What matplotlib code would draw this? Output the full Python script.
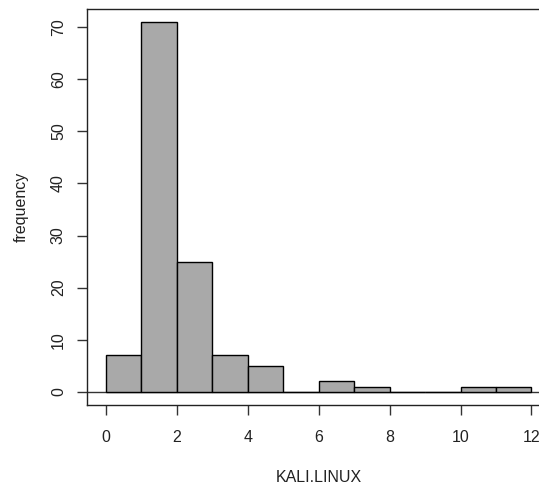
import matplotlib
matplotlib.use("Agg")
import matplotlib.pyplot as plt

bin_edges = [0, 1, 2, 3, 4, 5, 6, 7, 8, 9, 10, 11, 12]
counts = [7, 71, 25, 7, 5, 0, 2, 1, 0, 0, 1, 1]
x_ticks = [0, 2, 4, 6, 8, 10, 12]
y_ticks = [0, 10, 20, 30, 40, 50, 60, 70]

plt.rcParams['font.family'] = ['Liberation Sans', 'DejaVu Sans']
fig = plt.figure(figsize=(5.39, 4.88), dpi=100)
ax = fig.add_axes([87/539, 83/488, 464/539, 396/488])

lefts = bin_edges[:-1]
widths = [b - a for a, b in zip(bin_edges[:-1], bin_edges[1:])]
ax.bar(lefts, counts, width=widths, align='edge', color='#a9a9a9',
       edgecolor='black', linewidth=1.0, zorder=2)
ax.axhline(0, color='#333333', linewidth=1.0, zorder=1)

ax.set_xlim(-0.53, 12.55)
ax.set_ylim(-2.55, 73.5)
ax.set_xticks(x_ticks)
ax.set_yticks(y_ticks)
ax.set_yticklabels([str(v) for v in y_ticks], rotation=90, va='center')
for s in ax.spines.values():
    s.set_linewidth(1.0)
    s.set_color('#222222')
ax.tick_params(axis='both', direction='out', length=7.2, width=1.0,
               color='#333333', labelsize=11.5, labelcolor='#222222')
ax.tick_params(axis='x', pad=11)
ax.tick_params(axis='y', pad=8)
ax.set_xlabel('KALI.LINUX', fontsize=11.5, color='#222222', labelpad=18)
ax.set_ylabel('frequency', fontsize=11.5, color='#222222', labelpad=16)

fig.savefig('out.png', dpi=100)
